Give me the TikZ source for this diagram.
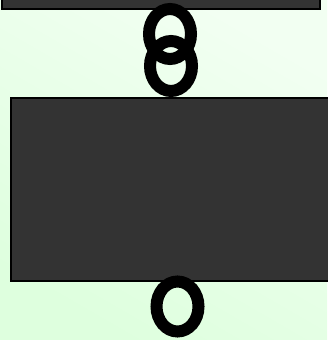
\documentclass[tikz,border=0pt]{standalone}
\usetikzlibrary{shapes.geometric}
\definecolor{bgA}{RGB}{242,255,242}
\definecolor{bgB}{RGB}{222,255,222}
\definecolor{boxfill}{RGB}{51,51,51}
\tikzset{
  slab/.style={draw=black, fill=boxfill, line width=2pt, rectangle, inner sep=0pt},
  ring/.style={draw=black, line width=12pt, ellipse, inner sep=0pt,
               minimum width=42pt, minimum height=50pt}
}
\begin{document}
\begin{tikzpicture}[x=1pt,y=-1pt]
  \useasboundingbox (0,0) rectangle (327,340);
  \shade[top color=bgA, bottom color=bgB, shading angle=-30] (0,0) rectangle (327,340);
  \node[slab, minimum width=318pt, minimum height=20pt] (top) at (161,-1.5) {};
  \node[slab, minimum width=334pt, minimum height=183pt] (mid) at (178,189.5) {};
  \node[ring] (r1) at (170,34) {};
  \node[ring] (r2) at (171,66) {};
  \node[ring] (r3) at (177.5,306.5) {};
\end{tikzpicture}
\end{document}
